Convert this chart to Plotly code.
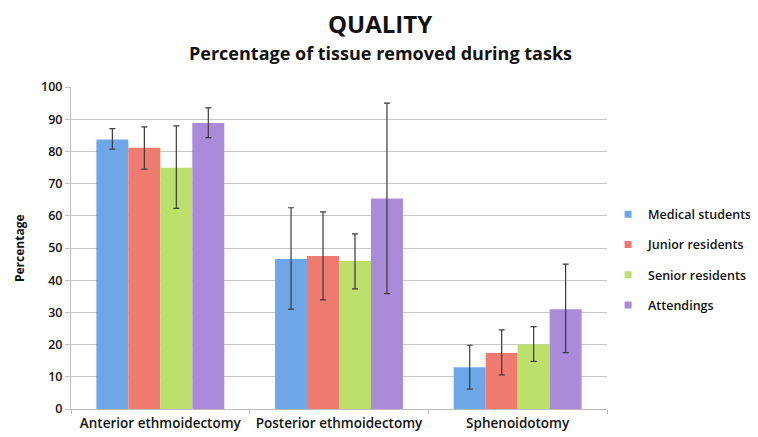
import plotly.graph_objects as go

categories = ["Anterior ethmoidectomy", "Posterior ethmoidectomy", "Sphenoidotomy"]
groups = ["Medical students", "Junior residents", "Senior residents", "Attendings"]
means = {
    "Medical students": [83.7, 46.6, 13.0],
    "Junior residents": [81.1, 47.5, 17.4],
    "Senior residents": [74.9, 46.0, 20.1],
    "Attendings": [88.8, 65.4, 31.0],
}
err_upper = {
    "Medical students": [87.1, 62.5, 19.8],
    "Junior residents": [87.6, 61.2, 24.6],
    "Senior residents": [87.9, 54.4, 25.6],
    "Attendings": [93.5, 95.0, 45.0],
}
err_lower = {
    "Medical students": [80.7, 31.0, 6.2],
    "Junior residents": [74.5, 33.9, 10.6],
    "Senior residents": [62.3, 37.3, 14.8],
    "Attendings": [84.3, 35.8, 17.5],
}
y_ticks = list(range(0, 101, 10))
colors = {
    "Medical students": "#6ea7e8",
    "Junior residents": "#ee7a70",
    "Senior residents": "#bde06c",
    "Attendings": "#a98bda",
}

FONT = "Open Sans"

fig = go.Figure()
for g in groups:
    m = means[g]
    fig.add_trace(go.Bar(
        name=g, x=categories, y=m, legendgroup=g, showlegend=False,
        marker=dict(color=colors[g], line=dict(width=0)),
        error_y=dict(
            type="data", symmetric=False,
            array=[u - v for u, v in zip(err_upper[g], m)],
            arrayminus=[v - l for v, l in zip(m, err_lower[g])],
            color="#3a3a3a", thickness=1.2, width=3,
        ),
    ))
# legend entries with small square swatches
for g in groups:
    fig.add_trace(go.Scatter(
        name=g, x=[None], y=[None], mode="markers", legendgroup=g,
        marker=dict(symbol="square", size=7, color=colors[g]),
        showlegend=True,
    ))

fig.update_layout(
    width=758, height=437,
    margin=dict(l=63, r=159, t=79, b=36, autoexpand=False),
    paper_bgcolor="white", plot_bgcolor="white",
    barmode="group", bargap=0.284, bargroupgap=0,
    font=dict(family=FONT, color="#111111"),
    annotations=[
        dict(text="<b>QUALITY</b>", x=0.5765, xref="paper", y=1.197, yref="paper",
             xanchor="center", yanchor="middle", showarrow=False,
             font=dict(size=24, family=FONT, color="#111111")),
        dict(text="<b>Percentage of tissue removed during tasks</b>", x=0.5765, xref="paper",
             y=1.1056, yref="paper", xanchor="center", yanchor="middle", showarrow=False,
             font=dict(size=18, family=FONT, color="#111111")),
        dict(text="<b>Percentage</b>", x=-0.097, xref="paper", y=0.5, yref="paper",
             xanchor="center", yanchor="middle", showarrow=False, textangle=-90,
             font=dict(size=12, family=FONT, color="#111111")),
    ],
    legend=dict(
        x=1.002, xanchor="left", y=0.65, yanchor="top",
        font=dict(size=12.5, family=FONT, weight=600),
        tracegroupgap=11, itemwidth=30,
        traceorder="grouped",
    ),
    yaxis=dict(
        range=[0, 100], tickvals=y_ticks, showgrid=True,
        gridcolor="#c6c6c6", gridwidth=1,
        showline=True, linecolor="#bdbdbd", linewidth=1,
        ticks="outside", ticklen=5, tickcolor="#bdbdbd",
        tickfont=dict(size=12.5, weight=600),
        zeroline=False,
    ),
    xaxis=dict(
        showline=True, linecolor="#bdbdbd", linewidth=1,
        tickfont=dict(size=13.5, weight=600),
        ticks="outside", tickson="boundaries", ticklen=4, tickcolor="#bdbdbd",
        ticklabelstandoff=2,
    ),
)
fig.write_html("out.html")
